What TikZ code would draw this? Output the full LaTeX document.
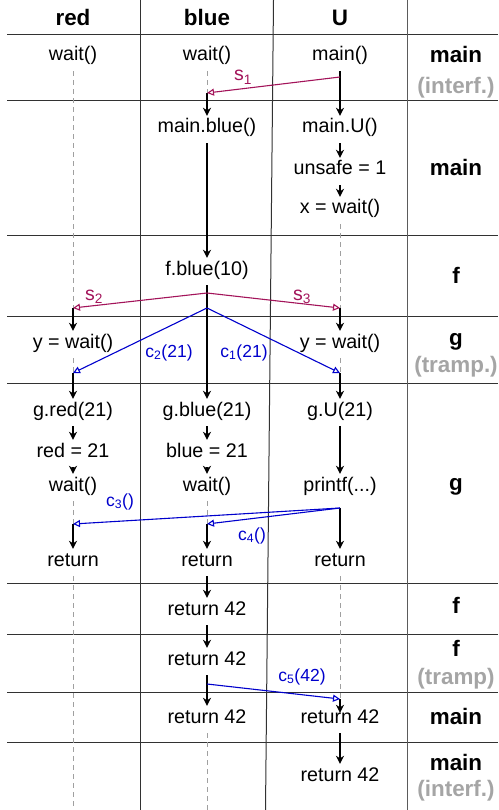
\documentclass[tikz,border=0pt]{standalone}
\usepackage{fontspec}
\setmainfont{Liberation Sans}
\usetikzlibrary{arrows.meta}
\definecolor{qsig}{RGB}{163,20,90}
\definecolor{qcall}{RGB}{0,0,204}
\definecolor{qgray}{RGB}{165,165,165}
\definecolor{qdash}{RGB}{160,160,160}
\definecolor{qgrid}{RGB}{50,50,50}

\begin{document}
\begin{tikzpicture}[x=1pt, y=-1pt,
  txt/.style={anchor=base, font=\fontsize{19.7}{22}\selectfont, text height=15pt, text depth=8pt, inner sep=2pt},
  hdr/.style={anchor=base, font=\fontsize{22.4}{26}\selectfont\bfseries, inner sep=0pt},
  note/.style={hdr, text=qgray},
  flow/.style={line width=1.3pt, -{Stealth[length=8pt,width=8pt,inset=2.5pt]}},
  life/.style={qdash, line width=1pt, dash pattern=on 5pt off 4pt},
  sig/.style={qsig, line width=1.1pt, -{Triangle[open,length=7pt,width=7pt]}},
  call/.style={qcall, line width=1.1pt, -{Triangle[open,length=7pt,width=7pt]}},
  siglbl/.style={anchor=base, text=qsig, font=\fontsize{19.5}{22}\selectfont, inner sep=0pt},
  calllbl/.style={anchor=base, text=qcall, font=\fontsize{17.5}{20}\selectfont, inner sep=0pt}]%
  \def\xr{73}%
  \def\xb{207}%
  \def\xu{340}%
  \def\xt{456}%
  \useasboundingbox (0,0) rectangle (498,810);

  %grid:
  \foreach \y in {35,101,235,316,383,583,634,692,742}{
    \draw[qgrid, line width=1pt] (7,\y) -- (498,\y);
  }
  \draw[qgrid, line width=1pt] (140.5,0) -- (140.5,810);
  \draw[qgrid, line width=1pt] (273.5,0) -- (265.5,810);
  \draw[qgrid!80, line width=1pt] (407,0) -- (407,810);

  %headers
  \node[hdr] (hred) at (\xr,26) {red};
  \node[hdr] (hblue) at (\xb,26) {blue};
  \node[hdr] (hU) at (\xu,26) {U};

  %row labels
  \node[hdr] (t1) at (\xt,63) {main};
  \node[note] (t1b) at (\xt,94) {(interf.)};
  \node[hdr] (t2) at (\xt,176) {main};
  \node[hdr] (t3) at (\xt,283) {f};
  \node[hdr] (t4) at (\xt,345) {g};
  \node[note] (t4b) at (\xt,372) {(tramp.)};
  \node[hdr] (t5) at (\xt,490) {g};
  \node[hdr] (t6) at (\xt,613) {f};
  \node[hdr] (t7) at (\xt,656) {f};
  \node[note] (t7b) at (\xt,684) {(tramp)};
  \node[hdr] (t8) at (\xt,724) {main};
  \node[hdr] (t9) at (\xt,770) {main};
  \node[note] (t9b) at (\xt,796) {(interf.)};

  %statements
  \node[txt] (rw) at (\xr,61) {wait()};
  \node[txt] (bw) at (\xb,61) {wait()};
  \node[txt] (umain) at (\xu,61) {main()};
  \node[txt] (mblue) at (\xb,133) {main.blue()};
  \node[txt] (mU) at (\xu,133) {main.U()};
  \node[txt] (unsafe) at (\xu,175) {unsafe = 1};
  \node[txt] (xw) at (\xu,214) {x = wait()};
  \node[txt] (fblue) at (\xb,275) {f.blue(10)};
  \node[txt] (ry) at (\xr,348) {y = wait()};
  \node[txt] (uy) at (\xu,348) {y = wait()};
  \node[txt] (gred) at (\xr,416) {g.red(21)};
  \node[txt] (gblue) at (\xb,416) {g.blue(21)};
  \node[txt] (gU) at (\xu,416) {g.U(21)};
  \node[txt] (redeq) at (\xr,457) {red = 21};
  \node[txt] (blueeq) at (\xb,457) {blue = 21};
  \node[txt] (rwait) at (\xr,491) {wait()};
  \node[txt] (bwait) at (\xb,491) {wait()};
  \node[txt] (printf) at (\xu,491) {printf(...)};
  \node[txt] (rret) at (\xr,566) {return};
  \node[txt] (bret) at (\xb,566) {return};
  \node[txt] (uret) at (\xu,566) {return};
  \node[txt] (bfa) at (\xb,615) {return 42};
  \node[txt] (bfb) at (\xb,665) {return 42};
  \node[txt] (bmain) at (\xb,723) {return 42};
  \node[txt] (umaina) at (\xu,723) {return 42};
  \node[txt] (umainb) at (\xu,781) {return 42};

  %message points
  \coordinate (s1a) at (\xu,77);
  \coordinate (s1b) at (\xb,93);
  \coordinate (fk) at (\xb,293);
  \coordinate (ck) at (\xb,308);
  \coordinate (s2e) at (\xr,308);
  \coordinate (s3e) at (\xu,308);
  \coordinate (c2e) at (\xr,373);
  \coordinate (c1e) at (\xu,373);
  \coordinate (pk) at (\xu,508);
  \coordinate (c3e) at (\xr,524);
  \coordinate (c4e) at (\xb,524);
  \coordinate (c5a) at (\xb,684);
  \coordinate (c5e) at (\xu,699);
  \coordinate (rbot) at (\xr,810);
  \coordinate (bbot) at (\xb,810);

  %red thread
  \draw[life] (rw.south) -- (s2e);
  \draw[flow] (s2e) -- (ry.north);
  \draw[life] (ry.south) -- (c2e);
  \draw[flow] (c2e) -- (gred.north);
  \draw[flow] (gred) -- (redeq);
  \draw[flow] (redeq) -- (rwait);
  \draw[life] (rwait.south) -- (c3e);
  \draw[flow] (c3e) -- (rret.north);
  \draw[life] (rret.south) -- (rbot);

  %blue thread
  \draw[life] (bw.south) -- (s1b);
  \draw[flow] (s1b) -- (mblue.north);
  \draw[flow] (mblue) -- (fblue);
  \draw[flow] (fblue) -- (gblue);
  \draw[flow] (gblue) -- (blueeq);
  \draw[flow] (blueeq) -- (bwait);
  \draw[life] (bwait.south) -- (c4e);
  \draw[flow] (c4e) -- (bret.north);
  \draw[flow] (bret) -- (bfa);
  \draw[flow] (bfa) -- (bfb);
  \draw[flow] (bfb) -- (bmain);
  \draw[life] (bmain.south) -- (bbot);

  %U thread
  \draw[flow] (umain) -- (mU);
  \draw[flow] (mU) -- (unsafe);
  \draw[flow] (unsafe) -- (xw);
  \draw[life] (xw.south) -- (s3e);
  \draw[flow] (s3e) -- (uy.north);
  \draw[life] (uy.south) -- (c1e);
  \draw[flow] (c1e) -- (gU.north);
  \draw[flow] (gU) -- (printf);
  \draw[flow] (pk) -- (uret.north);
  \draw[life] (uret.south) -- (c5e);
  \draw[flow] (c5e) -- ([yshift=-7pt]umaina.north);
  \draw[flow] (umaina) -- (umainb);

  %signals and calls
  \draw[sig] (s1a) -- (s1b);
  \draw[sig] (fk) -- (s2e);
  \draw[sig] (fk) -- (s3e);
  \draw[call] (ck) -- (c2e);
  \draw[call] (ck) -- (c1e);
  \draw[call] (pk) -- (c3e);
  \draw[call] (pk) -- (c4e);
  \draw[call] (c5a) -- (c5e);

  \node[siglbl] (l1) at (243,81) {s\textsubscript{1}};
  \node[siglbl] (l2) at (94,300) {s\textsubscript{2}};
  \node[siglbl] (l3) at (302,300) {s\textsubscript{3}};
  \node[calllbl] (k2) at (169,357) {c\textsubscript{2}(21)};
  \node[calllbl] (k1) at (244,357) {c\textsubscript{1}(21)};
  \node[calllbl] (k3) at (120,506) {c\textsubscript{3}()};
  \node[calllbl] (k4) at (252,540) {c\textsubscript{4}()};
  \node[calllbl] (k5) at (302,681) {c\textsubscript{5}(42)};
\end{tikzpicture}
\end{document}
